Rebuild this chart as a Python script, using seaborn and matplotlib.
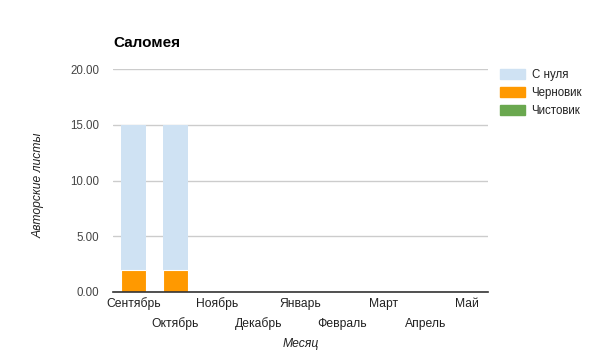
import matplotlib
matplotlib.use("Agg")
import matplotlib.pyplot as plt
import matplotlib.patches as mpatches
import matplotlib.transforms as mtransforms
import seaborn as sns
import pandas as pd
import numpy as np

months = ["Сентябрь", "Октябрь", "Ноябрь", "Декабрь", "Январь",
          "Февраль", "Март", "Апрель", "Май"]
s_nulya = [13, 13, 0, 0, 0, 0, 0, 0, 0]
chernovik = [2, 2, 0, 0, 0, 0, 0, 0, 0]
chistovik = [0, 0, 0, 0, 0, 0, 0, 0, 0]
series_names = ["С нуля", "Черновик", "Чистовик"]
colors = ["#cfe2f3", "#ff9900", "#6aa84f"]
yticks = [0, 5, 10, 15, 20]

sns.set_theme(style="white")
plt.rcParams['font.family'] = ['Liberation Sans', 'DejaVu Sans']

df = pd.DataFrame({"month": months, "s": s_nulya, "ch": chernovik, "cl": chistovik})
df["top"] = df["s"] + df["ch"] + df["cl"]
df["mid"] = df["ch"] + df["cl"]
df["low"] = df["cl"]

fig = plt.figure(figsize=(6, 3.61), dpi=100)
ax = fig.add_axes([113/600, 1-292/361, 375/600, 223/361])

sns.barplot(data=df, x="month", y="top", color=colors[0], width=0.6,
            saturation=1, ax=ax, linewidth=0)
sns.barplot(data=df, x="month", y="mid", color=colors[1], width=0.6,
            saturation=1, ax=ax, edgecolor="white", linewidth=0.8)
sns.barplot(data=df, x="month", y="low", color=colors[2], width=0.6,
            saturation=1, ax=ax, linewidth=0)

ax.set_ylim(0, 20)
ax.set_xlim(-0.5, len(months) - 0.5)
ax.set_yticks(yticks)
ax.set_yticklabels([f"{v:.2f}" for v in yticks], color="#444444", fontsize=8.3)
ax.yaxis.grid(True, color="#cccccc", linewidth=1)
ax.set_axisbelow(True)
ax.set_xticks(range(len(months)))
ax.set_xticklabels(months, color="#222222", fontsize=8.7)
ax.tick_params(axis="x", length=0, pad=4)
ax.tick_params(axis="y", length=0, pad=10)
shift = mtransforms.ScaledTranslation(0, -20/100, fig.dpi_scale_trans)
for i, lab in enumerate(ax.get_xticklabels()):
    if i % 2 == 1:
        lab.set_transform(lab.get_transform() + shift)
for sp in ["top", "right", "left"]:
    ax.spines[sp].set_visible(False)
ax.spines["bottom"].set_color("#333333")
ax.spines["bottom"].set_linewidth(1.2)

ax.set_xlabel("Месяц", fontstyle="italic", fontsize=8.7, color="#222222", va="top")
ax.xaxis.set_label_coords(0.5, (292-338)/223)
ax.set_ylabel("Авторские листы", fontstyle="italic", fontsize=8.7, color="#222222")
ax.yaxis.set_label_coords((45-113)/375, 0.48)

fig.text(113/600, 1-43/361, "Саломея", fontsize=11, fontweight="bold",
         color="black", va="center", ha="left")

handles = [mpatches.Patch(color=c, label=n) for c, n in zip(colors, series_names)]
fig.legend(handles=handles, loc="upper left", bbox_to_anchor=(490/600, 1-59/361),
           frameon=False, fontsize=8.3, handlelength=2.15, handleheight=0.95,
           labelspacing=0.5, handletextpad=0.55, labelcolor="#222222")

fig.savefig("out.png", dpi=100)
